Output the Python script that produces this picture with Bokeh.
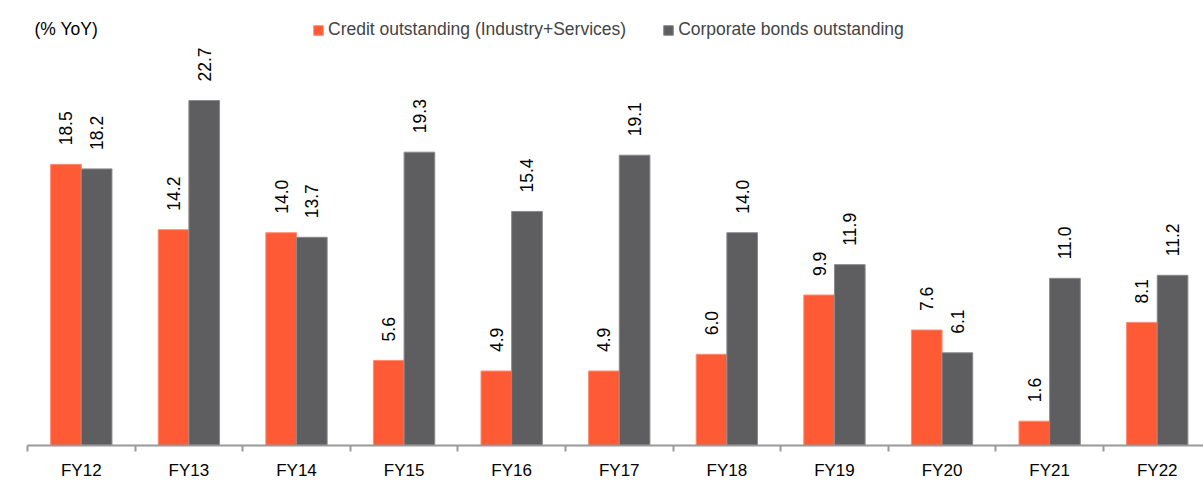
from bokeh.plotting import figure
from bokeh.models import (ColumnDataSource, Range1d, FixedTicker, LabelSet, Label,
                          Legend, LegendItem)
from bokeh.core.properties import value
from bokeh.embed import file_html
from bokeh.resources import INLINE

categories = ["FY12", "FY13", "FY14", "FY15", "FY16", "FY17", "FY18", "FY19", "FY20", "FY21", "FY22"]
credit = [18.5, 14.2, 14.0, 5.6, 4.9, 4.9, 6.0, 9.9, 7.6, 1.6, 8.1]
bonds = [18.2, 22.7, 13.7, 19.3, 15.4, 19.1, 14.0, 11.9, 6.1, 11.0, 11.2]

FONT = "Liberation Sans"
ORANGE = "#FF5A36"
GRAY = "#5E5E60"

n = len(categories)
centers = [i + 0.5 for i in range(n)]
bw = 0.285
src = ColumnDataSource(dict(
    xc=[c - bw / 2 for c in centers],
    xb=[c + bw / 2 for c in centers],
    credit=credit, bonds=bonds,
    credit_t=["%.1f" % v for v in credit],
    bonds_t=["%.1f" % v for v in bonds],
))

p = figure(width=1203, height=482, output_backend="svg", toolbar_location=None,
           x_range=Range1d(0, 10.93), y_range=Range1d(0, 29.28),
           min_border_left=27, min_border_right=0, min_border_top=0, min_border_bottom=37)
p.outline_line_color = None
p.grid.grid_line_color = None
p.yaxis.visible = False
p.background_fill_color = "white"
p.border_fill_color = "white"

r1 = p.vbar(x="xc", top="credit", width=bw, bottom=0, source=src,
            fill_color=ORANGE, line_color="#FF8C70", line_width=1)
r2 = p.vbar(x="xb", top="bonds", width=bw, bottom=0, source=src,
            fill_color=GRAY, line_color="#8A8A8C", line_width=1)

ax = p.xaxis[0]
ax.ticker = FixedTicker(ticks=centers, minor_ticks=list(range(n + 1)))
ax.major_label_overrides = {c: cat for c, cat in zip(centers, categories)}
ax.major_tick_line_color = None
ax.major_tick_in = 0
ax.major_tick_out = 0
ax.minor_tick_in = 0
ax.minor_tick_out = 6
ax.minor_tick_line_color = "#999999"
ax.minor_tick_line_width = 2
ax.axis_line_color = "#999999"
ax.axis_line_width = 2
ax.major_label_text_font = FONT
ax.major_label_text_font_size = "17px"
ax.major_label_text_color = "#000000"
ax.major_label_standoff = 9

for col, xcol in (("credit", "xc"), ("bonds", "xb")):
    ls = LabelSet(x=xcol, y=col, text=col + "_t", source=src, angle=1.5708,
                  text_align="left", text_baseline="middle", y_offset=19,
                  text_font=value(FONT), text_font_size=value("17.5px"),
                  text_color="#000000")
    p.add_layout(ls)

p.add_layout(Label(x=7, y=417, x_units="screen", y_units="screen", text="(% YoY)",
                   text_font=FONT, text_font_size="17.5px", text_baseline="middle",
                   text_color="#000000"))

legend = Legend(items=[LegendItem(label="Credit outstanding (Industry+Services)", renderers=[r1]),
                       LegendItem(label="Corporate bonds outstanding", renderers=[r2])],
                orientation="horizontal", location=(285, 405), padding=0, margin=0,
                spacing=36, glyph_width=12, glyph_height=12, label_standoff=4,
                label_text_font=FONT, label_text_font_size="17.5px",
                border_line_color=None, background_fill_alpha=0)
p.add_layout(legend, "center")

open("out.html", "w").write(file_html(p, INLINE))
